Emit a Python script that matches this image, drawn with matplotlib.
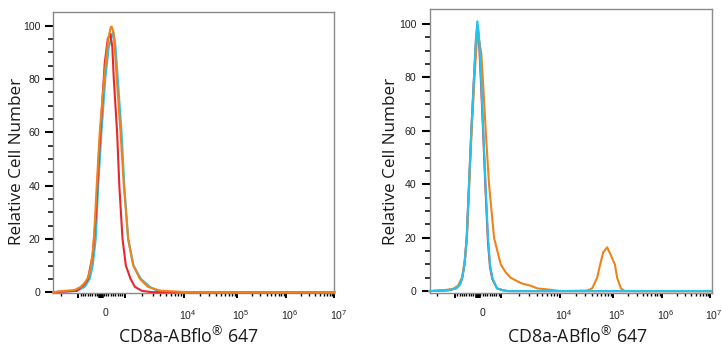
import numpy as np
import matplotlib
matplotlib.use("Agg")
import matplotlib.pyplot as plt
from matplotlib.transforms import ScaledTranslation

# ---------------- data (fluorescence value, relative cell number) ----------------
# Left panel
L_orange_x = [-2650, -1706, -1155, -900, -726, -583, -465, -378, -313, -204, -74, 113, 296, 404, 448,
              535, 665, 826, 970, 1151, 1399, 1816, 2483, 3963, 6590, 11540, 1e7]
L_orange_y = [0, 0.5, 0.8, 2, 3.5, 5.5, 9, 15, 22, 40, 60, 80, 95, 99.5, 99.6,
              97, 80, 60, 40, 20, 10, 5, 2, 0.6, 0.3, 0, 0]
L_cyan_x = [-2650, -1068, -726, -509, -378, -248, -139, 0, 165, 317, 504, 600, 709, 870, 991, 1151,
            1421, 1888, 2683, 3524, 5212, 1e7]
L_cyan_y = [0, 0.5, 2, 5, 10, 20, 40, 60, 80, 92, 97.5, 93, 80, 60, 40, 20,
            10, 5, 2, 0.5, 0, 0]
L_red_x = [-2650, -1068, -726, -583, -378, -248, -117, 13, 143, 274, 391, 470, 535, 678, 774, 913,
           1052, 1264, 1496, 1962, 2904, 1e7]
L_red_y = [0, 0.5, 3, 5, 14, 28, 50, 68, 86, 95, 97, 92, 80, 60, 40, 20,
           10, 5, 2, 0.5, 0, 0]

# Right panel
R_cyan_x = [-2700, -1315, -957, -783, -683, -587, -491, -391, -291, -174, -87, -30, 43, 130, 230,
            326, 435, 522, 622, 826, 1081, 1315, 1.05e7]
R_cyan_y = [0, 0.3, 1, 2.5, 5, 10, 20, 40, 60, 80, 95, 101, 96, 80, 60,
            40, 20, 10, 5, 1, 0.3, 0, 0]
R_red_x = [-2700, -1315, -957, -783, -683, -587, -491, -391, -291, -174, -87, -30, 43, 130, 230,
           326, 435, 522, 622, 826, 1081, 1315, 1.05e7]
R_red_y = [0, 0.3, 1, 2.5, 5, 10, 20, 40, 60, 80, 94, 99, 94, 78, 58,
           38, 18, 9, 4.5, 1, 0.3, 0, 0]
R_orange_x = [-2700, -1597, -1081, -870, -696, -565, -478, -378, -274, -152, -65, 0, 65, 143, 239,
              335, 478, 696, 987, 1201, 1459, 2158, 3185, 4120, 6265, 7900, 10450,
              32300, 40200, 49900, 56900, 64800, 77100, 87700, 108300, 120700, 143600, 167600, 324000, 1.05e7]
R_orange_y = [0, 0.3, 0.8, 2, 5, 12, 20, 40, 60, 80, 92, 96.5, 93, 89, 75,
              60, 40, 20, 10, 7, 5, 3, 2, 1, 0.6, 0.3, 0,
              0.2, 1, 5, 10, 14.5, 16.4, 14, 10, 5, 1, 0.1, 0, 0]

y_major = [0, 20, 40, 60, 80, 100]
x_major = [-1000, 0, 1000, 1e4, 1e5, 1e6, 1e7]
x_major_labels = ["", "0", "", r"$\mathregular{10^{4}}$", r"$\mathregular{10^{5}}$",
                  r"$\mathregular{10^{6}}$", r"$\mathregular{10^{7}}$"]
x_label = r"CD8a-ABflo$\mathregular{^{®}}$ 647"
y_label = "Relative Cell Number"

# ---------------- biexponential-like display scale ----------------
LOGS = np.array([3, 4, 5, 6, 7, 8], float)
POS = np.array([23, 82, 135, 184, 232, 280], float)
LIN = 1000.0


def fwd(x):
    x = np.asarray(x, float)
    a = np.abs(x)
    lin = a * POS[0] / LIN
    lg = np.interp(np.log10(np.maximum(a, LIN)), LOGS, POS)
    return np.sign(x) * np.where(a <= LIN, lin, lg)


def inv(p):
    p = np.asarray(p, float)
    a = np.abs(p)
    lin = a * LIN / POS[0]
    lg = 10 ** np.interp(a, POS, LOGS)
    return np.sign(p) * np.where(a <= POS[0], lin, lg)


x_minor = [-2000] + [-k * 100 for k in range(1, 10)] + [k * 100 for k in range(1, 10)]
for e in range(3, 7):
    x_minor += [m * 10 ** e for m in range(2, 10)]

C_ORANGE = "#F0821A"
C_CYAN = "#22C4EE"
C_RED = "#E8262E"

W, H = 722, 350
fig = plt.figure(figsize=(W / 100, H / 100), dpi=100)


def px_rect(x0, y0, x1, y1):
    return [x0 / W, 1 - y1 / H, (x1 - x0) / W, (y1 - y0) / H]


axL = fig.add_axes(px_rect(53.3, 12.3, 334.3, 292.7))
axR = fig.add_axes(px_rect(429.5, 9.3, 711.7, 292.7))

panels = [
    (axL, [(L_cyan_x, L_cyan_y, C_CYAN), (L_red_x, L_red_y, C_RED), (L_orange_x, L_orange_y, C_ORANGE)],
     (-2650, 1e7), (-0.2, 105.0)),
    (axR, [(R_red_x, R_red_y, C_RED), (R_orange_x, R_orange_y, C_ORANGE), (R_cyan_x, R_cyan_y, C_CYAN)],
     (-2700, 1.07e7), (-0.6, 105.5)),
]

for ax, series, xl, yl in panels:
    ax.set_xscale("function", functions=(fwd, inv))
    for xs, ys, c in series:
        ax.plot(xs, ys, color=c, lw=1.5, solid_joinstyle="round", clip_on=False, zorder=3)
    ax.set_xlim(*xl)
    ax.set_ylim(*yl)
    for s in ax.spines.values():
        s.set_color("#8a8a8a")
        s.set_linewidth(1.0)
    ax.set_yticks(y_major)
    ax.set_yticks(np.arange(0, 101, 5), minor=True)
    ax.set_xticks(x_major)
    ax.set_xticklabels(x_major_labels)
    ax.set_xticks(x_minor, minor=True)
    ax.tick_params(axis="y", which="major", length=5.8, width=1.5, color="black", pad=3.5,
                   labelsize=7.6, labelcolor="#222222")
    ax.tick_params(axis="y", which="minor", length=3.6, width=1.1, color="black")
    ax.tick_params(axis="x", which="major", length=3.8, width=1.4, color="black", pad=7,
                   labelsize=7.6, labelcolor="#222222")
    ax.tick_params(axis="x", which="minor", length=2.2, width=1.0, color="black")
    for lab in ax.get_yticklabels():
        lab.set_fontfamily(["Liberation Sans", "DejaVu Sans"])
    for lab in ax.get_xticklabels():
        lab.set_fontfamily(["Liberation Sans", "DejaVu Sans"])
        lab.set_transform(lab.get_transform() + ScaledTranslation(4 / 100, 0, fig.dpi_scale_trans))
    t0 = ax.xaxis.get_major_ticks()[1]
    t0.tick1line.set_markeredgewidth(4)

# axis titles
for xc, yc in [(17.5, 161), (391, 161)]:
    fig.text(xc / W, 1 - yc / H, y_label, rotation=90, ha="center", va="center",
             fontsize=12.3, color="#1a1a1a", fontfamily=["Open Sans", "DejaVu Sans"])
for xc, yc in [(188, 337), (577, 337)]:
    fig.text(xc / W, 1 - yc / H, x_label, ha="center", va="center",
             fontsize=12.8, color="#1a1a1a", fontfamily=["Open Sans", "DejaVu Sans"])

fig.savefig("out.png", dpi=100)
